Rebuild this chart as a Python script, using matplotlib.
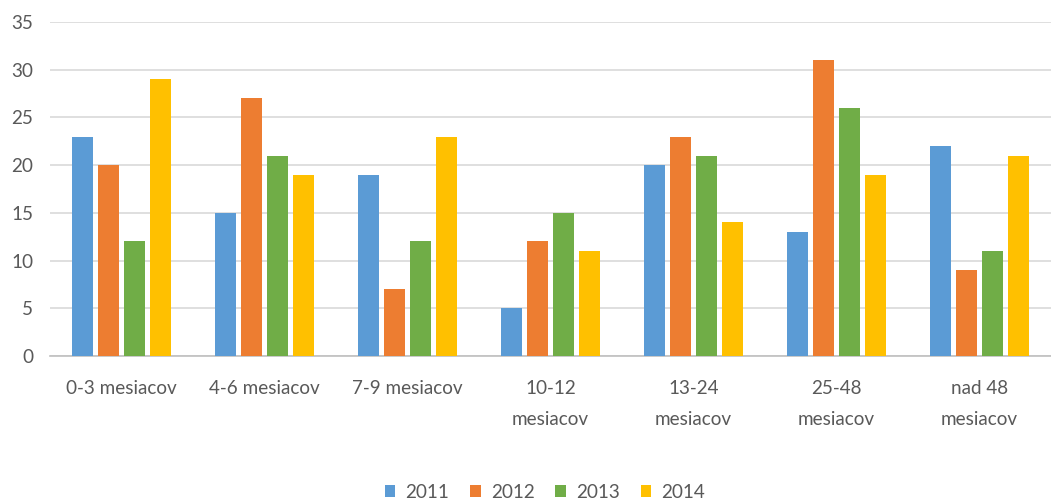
import matplotlib.pyplot as plt
import numpy as np

categories = ["0-3 mesiacov", "4-6 mesiacov", "7-9 mesiacov", "10-12\nmesiacov",
              "13-24\nmesiacov", "25-48\nmesiacov", "nad 48\nmesiacov"]
years = ["2011", "2012", "2013", "2014"]
v2011 = [23, 15, 19, 5, 20, 13, 22]
v2012 = [20, 27, 7, 12, 23, 31, 9]
v2013 = [12, 21, 12, 15, 21, 26, 11]
v2014 = [29, 19, 23, 11, 14, 19, 21]
series = [v2011, v2012, v2013, v2014]
colors = ["#5B9BD5", "#ED7D31", "#70AD47", "#FFC000"]

plt.rcParams["font.family"] = ["Lato", "DejaVu Sans"]
text_color = "#595959"
fs = 13.6

fig = plt.figure(figsize=(10.51, 5.0), dpi=100)
ax = fig.add_axes([50 / 1051, 1 - 356 / 500, 1 - 50 / 1051, (356 - 22) / 500])

x = np.arange(len(categories))
width = 0.147
step = 0.182
for i, (vals, col, yr) in enumerate(zip(series, colors, years)):
    ax.bar(x + (i - 1.5) * step, vals, width, color=col, label=yr, zorder=3)

ax.set_xlim(-0.5, len(categories) - 0.5)
ax.set_ylim(0, 35)
ax.set_yticks(range(0, 36, 5))
ax.set_xticks(x)
ax.set_xticklabels(categories, linespacing=2.05)
ax.tick_params(axis="both", length=0, labelsize=fs, colors=text_color)
ax.tick_params(axis="x", pad=17)
ax.tick_params(axis="y", pad=12)
ax.grid(axis="y", color="#D9D9D9", linewidth=1.2, zorder=0)
for s in ["top", "right", "left"]:
    ax.spines[s].set_visible(False)
ax.spines["bottom"].set_color("#BFBFBF")
ax.spines["bottom"].set_linewidth(1.2)

leg = fig.legend(loc="center", bbox_to_anchor=(545 / 1051, 1 - 492 / 500), ncol=4,
                 frameon=False, fontsize=fs, handlelength=0.55, handleheight=0.55,
                 handletextpad=0.55, columnspacing=1.1)
for t in leg.get_texts():
    t.set_color(text_color)

fig.savefig("out.png", dpi=100)
